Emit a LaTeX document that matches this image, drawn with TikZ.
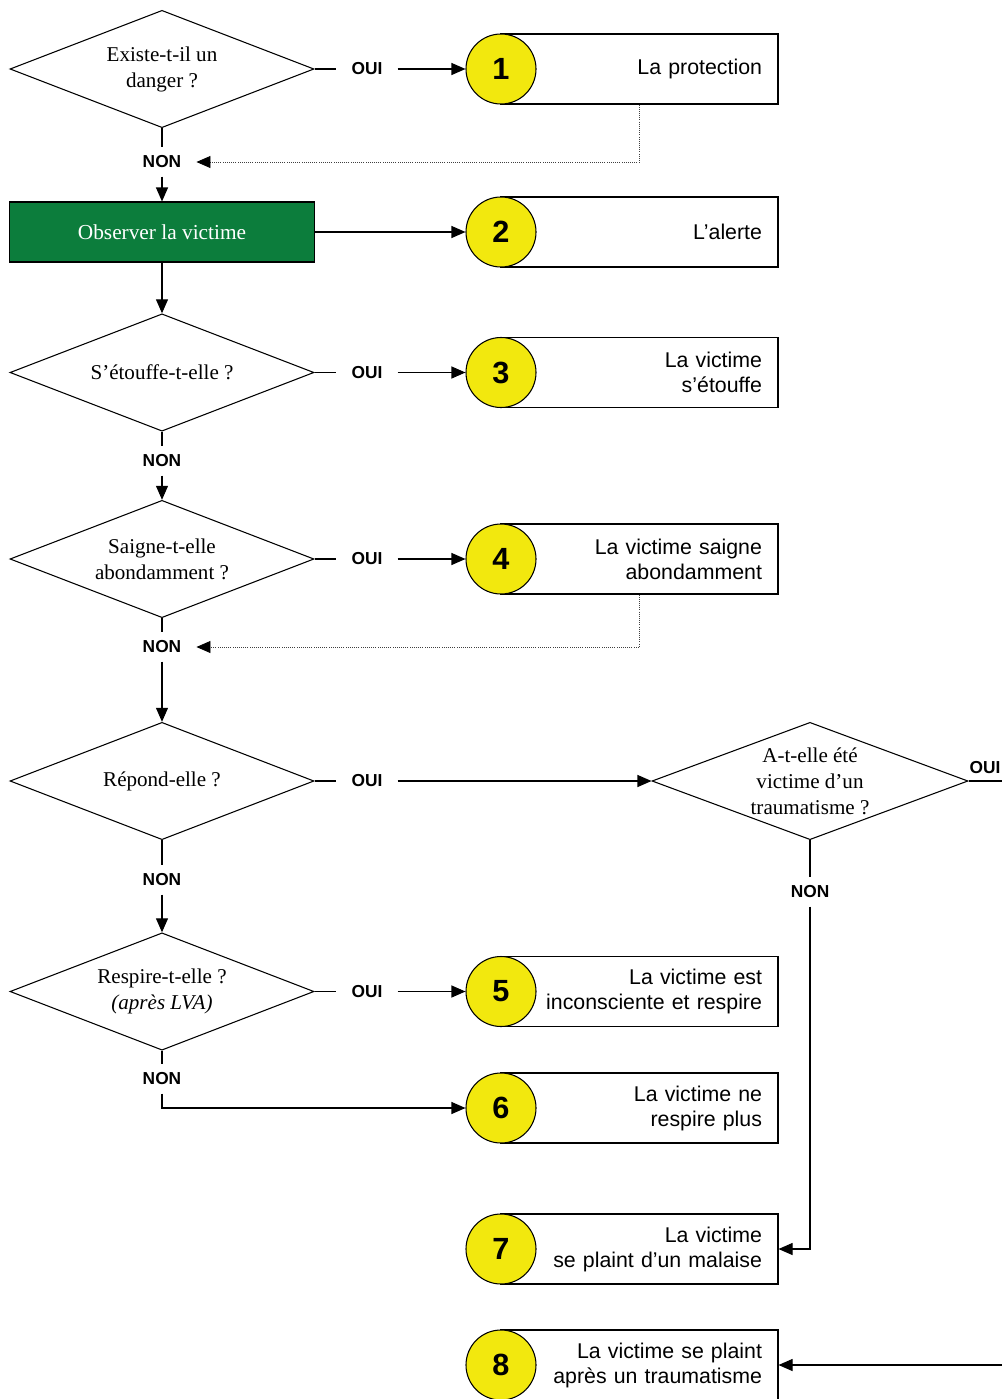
\documentclass[tikz,border=0pt]{standalone}
\usepackage{fontspec}
\setmainfont{Liberation Serif}
\setsansfont{Liberation Sans}
\usetikzlibrary{shapes.geometric,arrows.meta}
\definecolor{vert}{RGB}{12,125,60}
\definecolor{jaune}{RGB}{242,232,14}

\begin{document}
\begin{tikzpicture}[
  x=0.75pt, y=-0.75pt,
  line width=0.8pt,
  question/.style={
    draw,
    diamond,
    aspect=2.6,
    inner sep=0pt,
    minimum width=228pt,
    minimum height=88pt,
    align=center,
    font=\fontsize{15.8}{19.5}\selectfont
  },
  action/.style={
    draw,
    fill=vert,
    text=white,
    minimum width=228.75pt,
    minimum height=45pt,
    font=\fontsize{16}{19.5}\selectfont
  },
  reponse/.style={
    font=\sffamily\bfseries\fontsize{13}{15}\selectfont,
    inner xsep=11pt,
    inner ysep=6pt
  },
  numero/.style={
    circle,
    draw,
    fill=jaune,
    minimum size=52.5pt,
    inner sep=0pt,
    font=\sffamily\bfseries\fontsize{23}{23}\selectfont
  },
  fiche/.style={
    draw,
    minimum height=52.5pt,
    inner xsep=12pt,
    text width=183.75pt,
    align=right,
    font=\sffamily\fontsize{16}{18.75}\selectfont
  },
  flow/.style={-{Triangle[length=10.5pt,width=9pt]}},
  retour/.style={-{Triangle[length=10.5pt,width=9pt,color=black]}, densely dotted, line width=0.6pt, draw=black!75}
]
\useasboundingbox (0,0) rectangle (1002,1399);

% questions
\node[question] (danger) at (162,69) {Existe-t-il un\\danger~?};
\node[action] (observe) at (162,232) {Observer la victime};
\node[question] (etouffe) at (162,372.5) {S’étouffe-t-elle~?};
\node[question] (saigne) at (162,559) {Saigne-t-elle\\abondamment~?};
\node[question] (repond) at (162,781) {Répond-elle~?};
\node[question, minimum width=237pt] (trauma) at (810,781) {A-t-elle été\\victime d’un\\traumatisme~?};
\node[question] (respire) at (162,991.5) {Respire-t-elle~?\\\textit{(après LVA)}};

% oui / non
\node[reponse] (oui1) at (367,69) {OUI};
\node[reponse] (oui2) at (367,372.5) {OUI};
\node[reponse] (oui3) at (367,559) {OUI};
\node[reponse] (oui4) at (367,781) {OUI};
\node[reponse] (oui5) at (985,768) {OUI};
\node[reponse] (oui6) at (367,991.5) {OUI};
\node[reponse] (non1) at (162,162) {NON};
\node[reponse] (non2) at (162,461) {NON};
\node[reponse] (non3) at (162,647) {NON};
\node[reponse] (non4) at (162,880) {NON};
\node[reponse] (non5) at (810,892) {NON};
\node[reponse] (non6) at (162,1079) {NON};

% fiches
\node[fiche] (b1) at (639.5,69) {La protection};
\node[fiche] (b2) at (639.5,232) {L’alerte};
\node[fiche] (b3) at (639.5,372.5) {La victime\\s’étouffe};
\node[fiche] (b4) at (639.5,559) {La victime saigne\\abondamment};
\node[fiche] (b5) at (639.5,991.5) {La victime est\\inconsciente et respire};
\node[fiche] (b6) at (639.5,1108) {La victime ne\\respire plus};
\node[fiche] (b7) at (639.5,1249) {La victime\\se plaint d’un malaise};
\node[fiche] (b8) at (639.5,1365) {La victime se plaint\\après un traumatisme};
\foreach \n/\y in {1/69,2/232,3/372.5,4/559,5/991.5,6/1108,7/1249,8/1365}
  \node[numero] (c\n) at (501,\y) {\n};

\coordinate (bord5) at (1002,781);
\coordinate (bord8) at (1002,1365);

% liens
\draw (danger.east) -- (oui1.west);
\draw[flow] (oui1.east) -- (c1.west);
\draw (danger.south) -- (non1.north);
\draw[flow] (non1.south) -- (observe.north);
\draw[retour] (b1.south) |- (non1.east);
\draw[flow] (observe.east) -- (c2.west);
\draw[flow] (observe.south) -- (etouffe.north);
\draw (etouffe.east) -- (oui2.west);
\draw[flow] (oui2.east) -- (c3.west);
\draw (etouffe.south) -- (non2.north);
\draw[flow] (non2.south) -- (saigne.north);
\draw (saigne.east) -- (oui3.west);
\draw[flow] (oui3.east) -- (c4.west);
\draw (saigne.south) -- (non3.north);
\draw[retour] (b4.south) |- (non3.east);
\draw[flow] (non3.south) -- (repond.north);
\draw (repond.east) -- (oui4.west);
\draw[flow] (oui4.east) -- (trauma.west);
\draw (trauma.east) -- (bord5);
\draw (trauma.south) -- (non5.north);
\draw[flow] (non5.south) |- (b7.east);
\draw (repond.south) -- (non4.north);
\draw[flow] (non4.south) -- (respire.north);
\draw (respire.east) -- (oui6.west);
\draw[flow] (oui6.east) -- (c5.west);
\draw (respire.south) -- (non6.north);
\draw[flow] (non6.south) |- (c6.west);
\draw[flow] (bord8) -- (b8.east);
\end{tikzpicture}
\end{document}
